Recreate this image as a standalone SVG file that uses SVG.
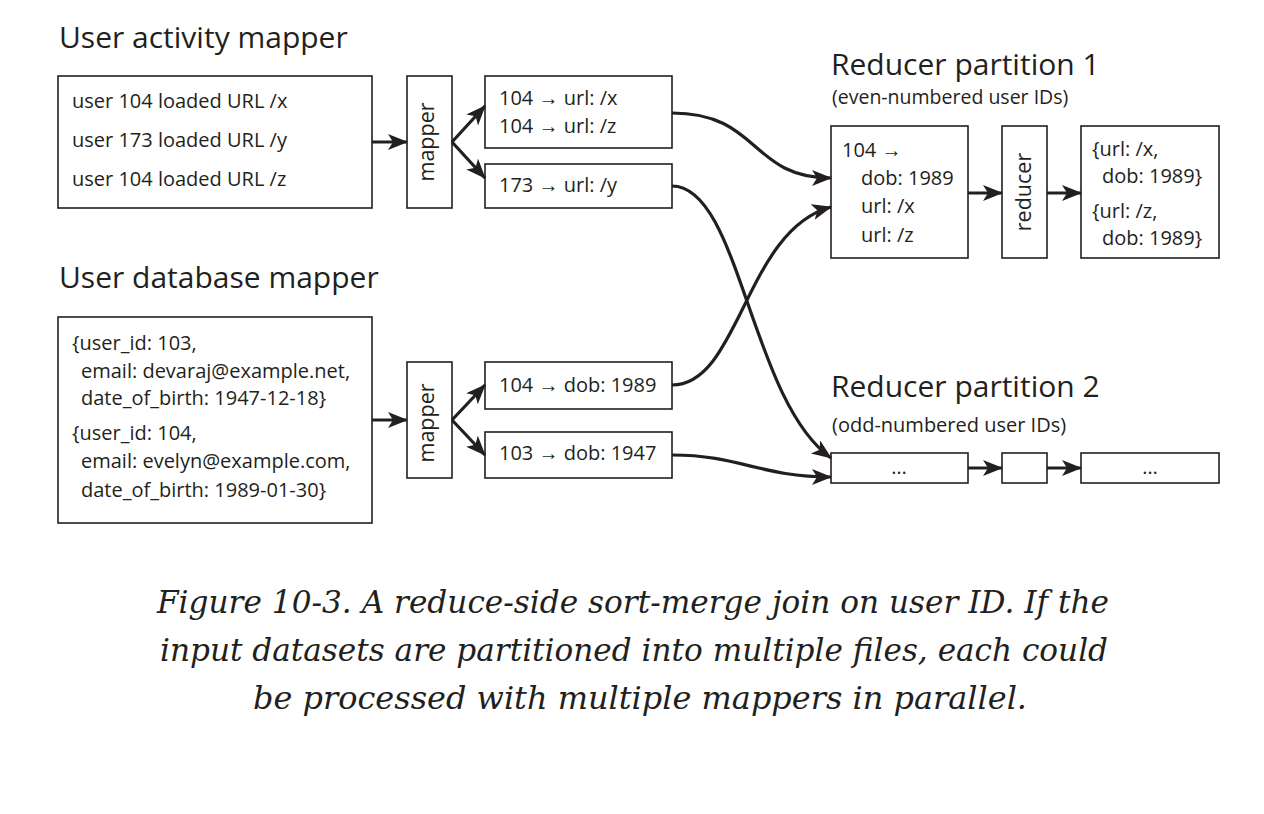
<svg xmlns="http://www.w3.org/2000/svg" width="1264" height="814" viewBox="0 0 1264 814">
<defs>
<marker id="ah" markerUnits="userSpaceOnUse" markerWidth="22" markerHeight="18" refX="19" refY="8" orient="auto" viewBox="0 0 22 18">
<path d="M0,0 L20,8 L0,16 L5,8 z" fill="#231f20"/>
</marker>
<style>
.box{fill:#fff;stroke:#231f20;stroke-width:1.6}
.t{font-family:"Open Sans","Noto Sans",sans-serif;font-size:20px;fill:#231f20}
.r{font-family:"Open Sans","Noto Sans",sans-serif;font-size:21.5px;fill:#231f20}
.h{font-family:"Open Sans","Noto Sans",sans-serif;font-size:30px;fill:#231f20}
.s{font-family:"Open Sans","Noto Sans",sans-serif;font-size:20px;fill:#231f20}
.c{fill:none;stroke:#231f20;stroke-width:3.2;marker-end:url(#ah)}
.cap{font-family:"DejaVu Serif","Liberation Serif",serif;font-style:italic;font-size:32px;fill:#231f20}
</style>
</defs>
<rect width="1264" height="814" fill="#fff"/>

<g id="title-activity"><text class="h" x="59" y="48">User activity mapper</text></g>
<g id="title-db"><text class="h" x="59" y="288">User database mapper</text></g>
<g id="title-r1"><text class="h" x="831" y="75">Reducer partition 1</text><text class="s" x="832" y="104" style="font-size:19.5px">(even-numbered user IDs)</text></g>
<g id="title-r2"><text class="h" x="831" y="397">Reducer partition 2</text><text class="s" x="832" y="432">(odd-numbered user IDs)</text></g>

<g id="activity-input">
<rect class="box" x="58" y="76" width="314" height="132"/>
<text class="t" x="72" y="108">user 104 loaded URL /x</text>
<text class="t" x="72" y="147">user 173 loaded URL /y</text>
<text class="t" x="72" y="186">user 104 loaded URL /z</text>
</g>
<g id="mapper1">
<rect class="box" x="407" y="76" width="45" height="132"/>
<text class="r" transform="translate(434,142) rotate(-90)" text-anchor="middle">mapper</text>
</g>
<g id="out-a">
<rect class="box" x="485" y="76" width="187" height="72"/>
<text class="t" x="499" y="105">104 → url: /x</text>
<text class="t" x="499" y="133">104 → url: /z</text>
</g>
<g id="out-b">
<rect class="box" x="485" y="164" width="187" height="44"/>
<text class="t" x="499" y="192">173 → url: /y</text>
</g>

<g id="db-input">
<rect class="box" x="58" y="317" width="314" height="206"/>
<text class="t" x="72" y="350">{user_id: 103,</text>
<text class="t" x="81" y="378">email: devaraj@example.net,</text>
<text class="t" x="81" y="405">date_of_birth: 1947-12-18}</text>
<text class="t" x="72" y="440">{user_id: 104,</text>
<text class="t" x="81" y="468">email: evelyn@example.com,</text>
<text class="t" x="81" y="497">date_of_birth: 1989-01-30}</text>
</g>
<g id="mapper2">
<rect class="box" x="407" y="362" width="45" height="116"/>
<text class="r" transform="translate(434,423) rotate(-90)" text-anchor="middle">mapper</text>
</g>
<g id="out-c">
<rect class="box" x="485" y="362" width="187" height="47"/>
<text class="t" x="499" y="392">104 → dob: 1989</text>
</g>
<g id="out-d">
<rect class="box" x="485" y="432" width="187" height="46"/>
<text class="t" x="499" y="460">103 → dob: 1947</text>
</g>

<g id="r1-input">
<rect class="box" x="831" y="126" width="137" height="132"/>
<text class="t" x="842" y="157">104 →</text>
<text class="t" x="861" y="185">dob: 1989</text>
<text class="t" x="861" y="213">url: /x</text>
<text class="t" x="861" y="242">url: /z</text>
</g>
<g id="reducer1">
<rect class="box" x="1002" y="126" width="45" height="132"/>
<text class="r" transform="translate(1031,192) rotate(-90)" text-anchor="middle">reducer</text>
</g>
<g id="r1-output">
<rect class="box" x="1081" y="126" width="138" height="132"/>
<text class="t" x="1092" y="156">{url: /x,</text>
<text class="t" x="1102" y="183">dob: 1989}</text>
<text class="t" x="1092" y="218">{url: /z,</text>
<text class="t" x="1102" y="245">dob: 1989}</text>
</g>

<g id="r2-input">
<rect class="box" x="831" y="453" width="137" height="30"/>
<text class="t" x="899" y="474" text-anchor="middle">…</text>
</g>
<g id="reducer2">
<rect class="box" x="1002" y="453" width="45" height="30"/>
</g>
<g id="r2-output">
<rect class="box" x="1081" y="453" width="138" height="30"/>
<text class="t" x="1150" y="474" text-anchor="middle">…</text>
</g>

<g id="connectors">
<path class="c" d="M372,142 L407,142"/>
<path class="c" d="M452,142 L485,106"/>
<path class="c" d="M452,142 L485,178"/>
<path class="c" d="M372,420 L407,420"/>
<path class="c" d="M452,420 L485,385"/>
<path class="c" d="M452,420 L485,455"/>
<path class="c" d="M672,113 C760,113 750,178 831,178"/>
<path class="c" d="M672,186 C740,186 750,400 831,458"/>
<path class="c" d="M672,385 C740,385 745,230 831,207"/>
<path class="c" d="M672,455 C740,455 760,477 831,477"/>
<path class="c" d="M968,193 L1002,193"/>
<path class="c" d="M1047,193 L1081,193"/>
<path class="c" d="M968,468 L1002,468"/>
<path class="c" d="M1047,468 L1081,468"/>
</g>

<g id="caption">
<text class="cap" x="633" y="613" text-anchor="middle" textLength="952" lengthAdjust="spacingAndGlyphs">Figure 10-3. A reduce-side sort-merge join on user ID. If the</text>
<text class="cap" x="634" y="661" text-anchor="middle" textLength="948" lengthAdjust="spacingAndGlyphs">input datasets are partitioned into multiple files, each could</text>
<text class="cap" x="640" y="709" text-anchor="middle" textLength="774" lengthAdjust="spacingAndGlyphs">be processed with multiple mappers in parallel.</text>
</g>
</svg>
